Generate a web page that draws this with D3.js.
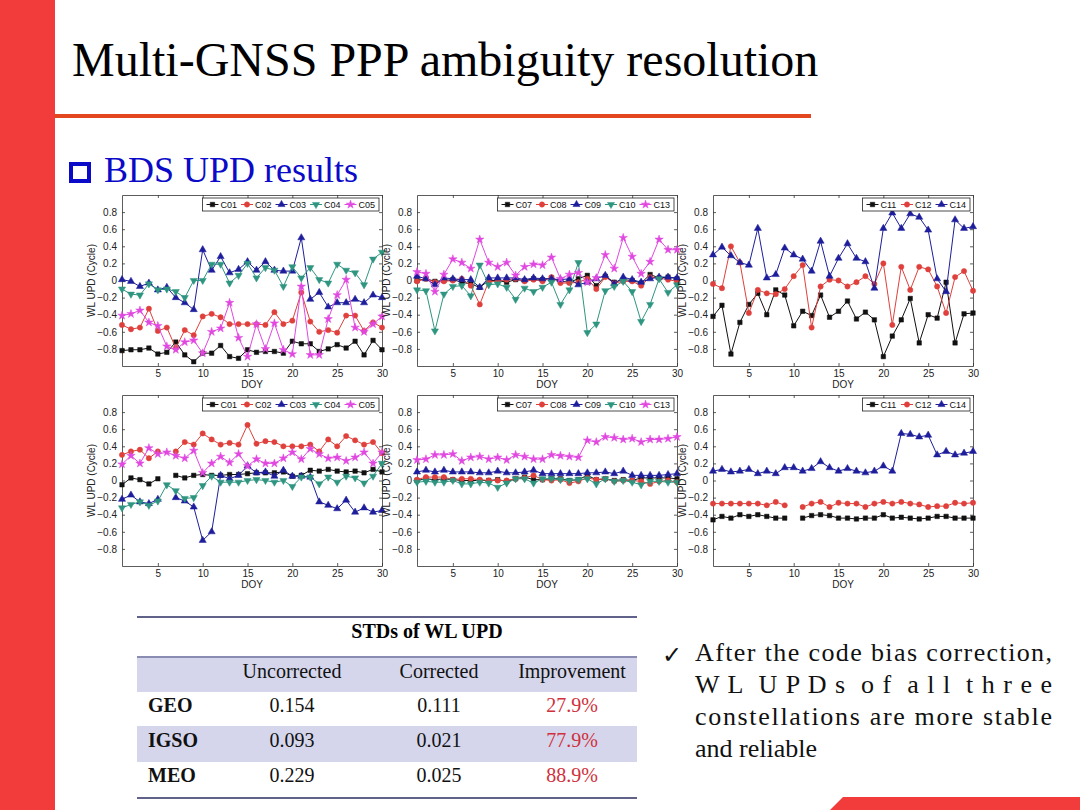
<!DOCTYPE html>
<html>
<head>
<meta charset="utf-8">
<title>Multi-GNSS PPP ambiguity resolution</title>
<script src="https://cdn.jsdelivr.net/npm/d3@7"></script>
<style>
  body { margin: 0; padding: 0; background: #fff; }
  svg { display: block; }
  .serif { font-family: "Liberation Serif", "Times New Roman", serif; }
  .axis text { font-family: "Liberation Sans", Arial, sans-serif; font-size: 10px; fill: #222; }
  .axis path, .axis line { stroke: #333; stroke-width: 0.8; }
  .lbl { font-family: "Liberation Sans", Arial, sans-serif; font-size: 10px; fill: #222; }
  .legend text { font-family: "Liberation Sans", Arial, sans-serif; font-size: 9px; fill: #111; }
</style>
</head>
<body>
<svg id="slide" width="1080" height="810"></svg>
<script>
// ---- data ----
var days = [1,2,3,4,5,6,7,8,9,10,11,12,13,14,15,16,17,18,19,20,21,22,23,24,25,26,27,28,29,30];
var xTicks = [5, 10, 15, 20, 25, 30];
var yTicks = [-0.8, -0.6, -0.4, -0.2, 0, 0.2, 0.4, 0.6, 0.8];

// uncorrected
var unGeoC01 = [-0.82,-0.81,-0.81,-0.79,-0.86,-0.84,-0.72,-0.87,-0.95,-0.85,-0.85,-0.76,-0.89,-0.91,-0.81,-0.84,-0.83,-0.83,-0.85,-0.71,-0.74,-0.74,-0.83,-0.80,-0.75,-0.79,-0.71,-0.87,-0.70,-0.81];
var unGeoC02 = [-0.52,-0.57,-0.55,-0.33,-0.59,-0.55,-0.79,-0.58,-0.64,-0.42,-0.39,-0.43,-0.51,-0.51,-0.51,-0.51,-0.52,-0.37,-0.51,-0.47,-0.14,-0.48,-0.60,-0.58,-0.61,-0.41,-0.41,-0.59,-0.49,-0.55];
var unGeoC03 = [0.01,-0.01,-0.07,-0.03,-0.11,-0.08,-0.20,-0.26,-0.34,0.36,0.12,0.28,0.09,0.13,0.22,0.12,0.22,0.12,0.11,0.11,0.50,-0.22,-0.14,-0.31,-0.26,-0.26,-0.22,-0.26,-0.17,-0.20];
var unGeoC04 = [-0.10,-0.16,-0.17,-0.04,-0.11,-0.10,-0.13,-0.20,0.00,0.00,0.19,0.19,-0.03,0.06,0.20,0.03,0.15,0.12,-0.07,0.16,0.03,0.15,0.01,-0.03,0.19,0.12,0.09,-0.05,0.25,0.33];
var unGeoC05 = [-0.41,-0.39,-0.35,-0.49,-0.53,-0.77,-0.81,-0.72,-0.70,-0.85,-0.60,-0.56,-0.26,-0.67,-0.89,-0.51,-0.80,-0.50,-0.81,-0.86,-0.07,-0.87,-0.87,-0.45,-0.17,0.01,-0.55,-0.60,-0.51,-0.42];

var unIgsoC07 = [0.00,0.02,-0.01,0.00,0.01,-0.02,-0.04,-0.08,0.00,0.00,-0.02,0.01,0.00,0.02,0.01,0.03,-0.01,-0.02,0.02,0.06,-0.06,0.05,-0.02,0.01,0.00,-0.03,0.07,0.03,0.04,0.02];
var unIgsoC08 = [-0.01,0.02,-0.02,-0.01,0.00,0.02,-0.06,-0.28,-0.01,-0.01,0.01,0.02,-0.01,0.01,-0.01,0.04,-0.03,-0.03,-0.02,0.02,-0.10,0.04,-0.03,-0.01,-0.01,-0.06,0.04,0.03,0.01,-0.01];
var unIgsoC09 = [0.05,0.02,-0.05,0.03,0.02,0.01,0.01,-0.08,0.03,0.03,0.03,0.03,0.01,0.03,0.02,0.02,0.01,0.02,-0.05,-0.02,0.02,0.06,-0.04,0.04,0.01,-0.02,0.02,0.04,0.04,0.03];
var unIgsoC10 = [-0.11,-0.12,-0.59,-0.16,-0.07,-0.06,-0.18,0.18,-0.05,-0.04,-0.08,-0.22,-0.09,-0.13,-0.08,-0.02,-0.28,-0.11,0.21,-0.61,-0.51,-0.12,-0.07,-0.01,-0.13,-0.48,-0.28,0.02,-0.14,-0.05];
var unIgsoC13 = [0.10,0.08,-0.13,0.07,0.25,0.21,0.14,0.48,0.21,0.16,0.21,0.06,0.16,0.19,0.18,0.27,0.02,0.07,0.09,-0.02,0.03,0.30,0.14,0.50,0.28,0.08,0.22,0.48,0.36,0.36];

var unMeoC11 = [-0.42,-0.29,-0.86,-0.49,-0.28,-0.15,-0.40,-0.11,-0.17,-0.53,-0.36,-0.41,-0.17,-0.43,-0.36,-0.24,-0.45,-0.37,-0.46,-0.89,-0.65,-0.46,-0.21,-0.73,-0.40,-0.44,-0.02,-0.73,-0.39,-0.38];
var unMeoC12 = [-0.04,-0.09,0.40,0.21,-0.38,-0.11,-0.15,-0.16,-0.10,0.05,0.18,-0.55,-0.07,0.01,0.00,-0.07,-0.02,0.05,-0.04,0.20,-0.52,0.16,-0.11,0.16,0.13,-0.07,-0.38,0.04,0.11,-0.12];
var unMeoC14 = [0.30,0.39,0.29,0.21,0.18,0.61,0.03,0.07,0.38,0.30,0.25,0.11,0.46,0.05,0.26,0.43,0.26,0.22,-0.09,0.61,0.79,0.61,0.78,0.74,0.59,0.02,-0.13,0.71,0.61,0.63];

// corrected
var coGeoC01 = [-0.05,0.03,0.01,-0.04,0.02,null,0.06,0.03,0.06,0.07,0.06,0.06,0.07,0.07,0.08,0.09,0.09,0.09,0.10,0.05,0.06,0.12,0.11,0.13,0.11,0.10,0.11,0.09,0.13,0.10];
var coGeoC02 = [0.30,0.34,0.36,0.26,0.34,null,0.34,0.45,0.42,0.55,0.48,0.42,0.44,0.42,0.65,0.43,0.46,0.45,0.40,0.40,0.40,0.42,0.34,0.48,0.40,0.52,0.47,0.42,0.45,0.32];
var coGeoC03 = [-0.22,-0.17,-0.25,-0.27,-0.22,null,-0.20,-0.24,-0.31,-0.70,-0.60,0.06,0.02,0.06,0.17,0.09,0.10,0.05,0.12,0.05,0.05,0.04,-0.25,-0.29,-0.33,-0.23,-0.37,-0.32,-0.37,-0.35];
var coGeoC04 = [-0.32,-0.28,-0.25,-0.29,-0.24,-0.05,-0.12,-0.21,-0.20,-0.06,0.05,-0.02,-0.02,-0.02,0.00,0.01,0.00,-0.02,0.00,-0.07,0.04,0.04,-0.04,0.04,-0.02,0.05,0.03,-0.03,0.05,0.20];
var coGeoC05 = [0.19,0.29,0.20,0.38,0.31,0.33,0.29,0.26,0.35,0.09,0.20,0.28,0.21,0.31,0.17,0.25,0.20,0.20,0.26,0.33,0.25,0.37,0.31,0.26,0.27,0.23,0.27,0.33,0.20,0.33];

var coIgsoC07 = [0.00,0.02,0.01,0.02,0.01,0.00,0.00,0.00,0.00,0.01,-0.01,0.02,0.04,0.01,0.01,0.02,0.02,0.00,0.01,0.06,0.01,0.02,0.00,0.01,0.00,0.03,0.03,0.03,0.03,0.02];
var coIgsoC08 = [0.01,0.04,0.04,0.04,0.01,0.02,0.02,0.01,0.00,0.00,0.00,0.02,0.03,0.06,0.01,0.00,0.01,-0.03,-0.01,0.03,0.01,0.02,-0.01,0.00,0.00,-0.01,-0.04,-0.01,0.00,-0.02];
var coIgsoC09 = [0.10,0.12,0.10,0.12,0.10,0.10,0.10,0.09,0.09,0.11,0.09,0.09,0.10,0.12,0.08,0.08,0.08,0.08,0.08,0.09,0.09,0.10,0.08,0.11,0.06,0.06,0.06,0.06,0.07,0.08];
var coIgsoC10 = [-0.02,-0.01,-0.02,-0.02,0.00,-0.04,-0.04,-0.02,-0.03,-0.08,-0.03,0.02,0.02,-0.03,0.02,0.02,0.01,0.00,0.01,0.02,-0.04,0.02,-0.01,0.00,-0.02,-0.05,-0.01,-0.01,-0.02,-0.02];
var coIgsoC13 = [0.24,0.25,0.30,0.30,0.31,0.23,0.27,0.28,0.25,0.27,0.24,0.30,0.28,0.25,0.25,0.30,0.29,0.28,0.27,0.47,0.45,0.51,0.50,0.48,0.49,0.45,0.48,0.48,0.49,0.51];

var coMeoC11 = [-0.46,-0.42,-0.44,-0.40,-0.42,-0.40,-0.42,-0.44,-0.44,null,-0.44,-0.41,-0.40,-0.41,-0.44,-0.44,-0.45,-0.44,-0.44,-0.40,-0.44,-0.43,-0.44,-0.45,-0.44,-0.42,-0.42,-0.44,-0.44,-0.44];
var coMeoC12 = [-0.27,-0.27,-0.27,-0.27,-0.27,-0.27,-0.29,-0.25,-0.29,null,-0.31,-0.27,-0.25,-0.31,-0.26,-0.27,-0.27,-0.31,-0.27,-0.25,-0.27,-0.25,-0.27,-0.28,-0.31,-0.30,-0.30,-0.26,-0.27,-0.26];
var coMeoC14 = [0.11,0.13,0.10,0.11,0.13,0.08,0.11,0.08,0.15,0.15,0.11,0.14,0.22,0.15,0.11,0.14,0.11,0.09,0.11,0.17,0.11,0.55,0.54,0.51,0.53,0.30,0.34,0.30,0.32,0.34];

var geoNames = ["C01", "C02", "C03", "C04", "C05"];
var igsoNames = ["C07", "C08", "C09", "C10", "C13"];
var meoNames = ["C11", "C12", "C14"];

// table
var tableTitle = "STDs of WL UPD";
var tableHeaders = ["Uncorrected", "Corrected", "Improvement"];
var tableRows = ["GEO", "IGSO", "MEO"];
var stdUncorrected = ["0.154", "0.093", "0.229"];
var stdCorrected = ["0.111", "0.021", "0.025"];
var stdImprovement = ["27.9%", "77.9%", "88.9%"];

var noteLines = ["After the code bias correction,", "W L  U P D s  o f  a l l  t h r e e", "constellations are more stable", "and reliable"];

// ---- styles ----
var styles = [
  { color: "#111111", shape: "square" },
  { color: "#e0403c", shape: "circle" },
  { color: "#1e1e9c", shape: "up" },
  { color: "#2e9580", shape: "down" },
  { color: "#e048e0", shape: "star" }
];

var panels = [
  { col: 0, row: 0, names: geoNames,  series: [unGeoC01, unGeoC02, unGeoC03, unGeoC04, unGeoC05] },
  { col: 1, row: 0, names: igsoNames, series: [unIgsoC07, unIgsoC08, unIgsoC09, unIgsoC10, unIgsoC13] },
  { col: 2, row: 0, names: meoNames,  series: [unMeoC11, unMeoC12, unMeoC14] },
  { col: 0, row: 1, names: geoNames,  series: [coGeoC01, coGeoC02, coGeoC03, coGeoC04, coGeoC05] },
  { col: 1, row: 1, names: igsoNames, series: [coIgsoC07, coIgsoC08, coIgsoC09, coIgsoC10, coIgsoC13] },
  { col: 2, row: 1, names: meoNames,  series: [coMeoC11, coMeoC12, coMeoC14] }
];

var svg = d3.select("#slide");

// ---- slide decoration ----
svg.append("rect").attr("x", 0).attr("y", 0).attr("width", 1080).attr("height", 810).attr("fill", "#fff");
svg.append("rect").attr("x", 0).attr("y", 0).attr("width", 55).attr("height", 810).attr("fill", "#f23c3c");
svg.append("rect").attr("x", 55).attr("y", 114).attr("width", 756).attr("height", 4).attr("fill", "#e2471f");
svg.append("path").attr("d", "M843,797 L1080,797 L1080,810 L830,810 Z").attr("fill", "#f23c3c");

svg.append("text").attr("class", "serif")
    .attr("x", 72).attr("y", 76)
    .attr("font-size", 48).attr("fill", "#000")
    .text("Multi-GNSS PPP ambiguity resolution");

svg.append("rect").attr("x", 71).attr("y", 164).attr("width", 18).attr("height", 17)
    .attr("fill", "none").attr("stroke", "#0a0ac8").attr("stroke-width", 4);
svg.append("text").attr("class", "serif")
    .attr("x", 104).attr("y", 182)
    .attr("font-size", 36).attr("fill", "#0a0ac8")
    .text("BDS UPD results");

// ---- charts ----
var colX = [122, 417, 713], rowY = [195, 395];
var pw = 260, ph = 171;

function symbolPath(shape) {
  if (shape === "square") return d3.symbol(d3.symbolSquare, 20)();
  if (shape === "circle") return d3.symbol(d3.symbolCircle, 22)();
  if (shape === "up") return d3.symbol(d3.symbolTriangle, 22)();
  if (shape === "down") return d3.symbol(d3.symbolTriangle, 22)();
  return d3.symbol(d3.symbolStar, 22)();
}

function drawMarker(sel, st) {
  sel.append("path")
      .attr("d", symbolPath(st.shape))
      .attr("transform", st.shape === "down" ? "rotate(180)" : null)
      .attr("fill", st.color)
      .attr("stroke", st.color)
      .attr("stroke-width", 0.5);
}

panels.forEach(function(p) {
  var left = colX[p.col], top = rowY[p.row];
  var g = svg.append("g").attr("transform", "translate(" + left + "," + top + ")");

  var x = d3.scaleLinear().domain([1, 30]).range([0, pw]);
  var y = d3.scaleLinear().domain([-1, 1]).range([ph, 0]);

  g.append("rect").attr("width", pw).attr("height", ph).attr("fill", "#fff");

  var fmt = function(d) { return d === 0 ? "0" : d3.format(".1f")(d); };

  g.append("g").attr("class", "axis").attr("transform", "translate(0," + ph + ")")
      .call(d3.axisBottom(x).tickValues(xTicks).tickSizeInner(-3).tickSizeOuter(0).tickPadding(4));
  g.append("g").attr("class", "axis")
      .call(d3.axisTop(x).tickValues(xTicks).tickSizeInner(-3).tickSizeOuter(0).tickFormat(""));
  g.append("g").attr("class", "axis")
      .call(d3.axisLeft(y).tickValues(yTicks).tickSizeInner(-3).tickSizeOuter(0).tickPadding(5).tickFormat(fmt));
  g.append("g").attr("class", "axis").attr("transform", "translate(" + pw + ",0)")
      .call(d3.axisRight(y).tickValues(yTicks).tickSizeInner(-3).tickSizeOuter(0).tickFormat(""));

  g.append("text").attr("class", "lbl")
      .attr("text-anchor", "middle")
      .attr("transform", "translate(-27," + (ph / 2) + ") rotate(-90)")
      .text("WL UPD (Cycle)");
  g.append("text").attr("class", "lbl")
      .attr("text-anchor", "middle")
      .attr("x", pw / 2).attr("y", ph + 22)
      .text("DOY");

  var line = d3.line()
      .defined(function(d) { return d.v != null; })
      .x(function(d) { return x(d.day); })
      .y(function(d) { return y(d.v); });

  p.series.forEach(function(vals, i) {
    var st = styles[i];
    var pts = days.map(function(dd, k) { return { day: dd, v: vals[k] }; });
    g.append("path").datum(pts)
        .attr("d", line)
        .attr("fill", "none")
        .attr("stroke", st.color)
        .attr("stroke-width", 1);
    g.selectAll(null).data(pts.filter(function(d) { return d.v != null; }))
      .enter().append("g")
        .attr("transform", function(d) { return "translate(" + x(d.day) + "," + y(d.v) + ")"; })
        .each(function() { drawMarker(d3.select(this), st); });
  });

  // legend
  var itemW = 34.5;
  var lw = p.names.length * itemW + 4;
  var lg = g.append("g").attr("class", "legend")
      .attr("transform", "translate(" + (pw - 3 - lw) + ",3)");
  lg.append("rect").attr("width", lw).attr("height", 13)
      .attr("fill", "#fff").attr("stroke", "#222").attr("stroke-width", 0.8);
  p.names.forEach(function(name, i) {
    var st = styles[i];
    var it = lg.append("g").attr("transform", "translate(" + (4 + i * itemW) + ",6.5)");
    it.append("line").attr("x1", 0).attr("x2", 12).attr("stroke", st.color).attr("stroke-width", 1);
    drawMarker(it.append("g").attr("transform", "translate(6,0)"), st);
    it.append("text").attr("x", 14).attr("y", 3.3).text(name);
  });
});

// ---- table ----
var tLeft = 137, tRight = 637;
var colCenters = [292, 439, 572];
svg.append("rect").attr("x", tLeft).attr("y", 658).attr("width", tRight - tLeft).attr("height", 34).attr("fill", "#d5d6ec");
svg.append("rect").attr("x", tLeft).attr("y", 726).attr("width", tRight - tLeft).attr("height", 36).attr("fill", "#d5d6ec");
[617, 657, 798].forEach(function(yy, i) {
  svg.append("line").attr("x1", tLeft).attr("x2", tRight).attr("y1", yy).attr("y2", yy)
      .attr("stroke", i === 1 ? "#8a8cb4" : "#60628a").attr("stroke-width", 2);
});
svg.append("text").attr("class", "serif").attr("x", 427).attr("y", 638)
    .attr("text-anchor", "middle").attr("font-size", 20).attr("font-weight", "bold")
    .text(tableTitle);
tableHeaders.forEach(function(h, i) {
  svg.append("text").attr("class", "serif").attr("x", colCenters[i]).attr("y", 678)
      .attr("text-anchor", "middle").attr("font-size", 20).attr("fill", "#111").text(h);
});
var rowBase = [712, 747, 782];
tableRows.forEach(function(r, i) {
  svg.append("text").attr("class", "serif").attr("x", 148).attr("y", rowBase[i])
      .attr("font-size", 20).attr("font-weight", "bold").attr("fill", "#111").text(r);
  svg.append("text").attr("class", "serif").attr("x", colCenters[0]).attr("y", rowBase[i])
      .attr("text-anchor", "middle").attr("font-size", 20).attr("fill", "#111").text(stdUncorrected[i]);
  svg.append("text").attr("class", "serif").attr("x", colCenters[1]).attr("y", rowBase[i])
      .attr("text-anchor", "middle").attr("font-size", 20).attr("fill", "#111").text(stdCorrected[i]);
  svg.append("text").attr("class", "serif").attr("x", colCenters[2]).attr("y", rowBase[i])
      .attr("text-anchor", "middle").attr("font-size", 20).attr("fill", "#d0303c").text(stdImprovement[i]);
});

// ---- note ----
svg.append("text").attr("x", 662).attr("y", 663)
    .attr("font-family", "DejaVu Sans, sans-serif")
    .attr("font-size", 24).attr("fill", "#111").text("\u2713");
noteLines.forEach(function(t, i) {
  var tx = svg.append("text").attr("class", "serif")
      .attr("x", 695).attr("y", 661 + i * 32)
      .attr("font-size", 26).attr("fill", "#111")
      .attr("xml:space", "preserve")
      .style("white-space", "pre")
      .text(t);
  if (i < 3) tx.attr("textLength", 357).attr("lengthAdjust", "spacing");
});
</script>
</body>
</html>
